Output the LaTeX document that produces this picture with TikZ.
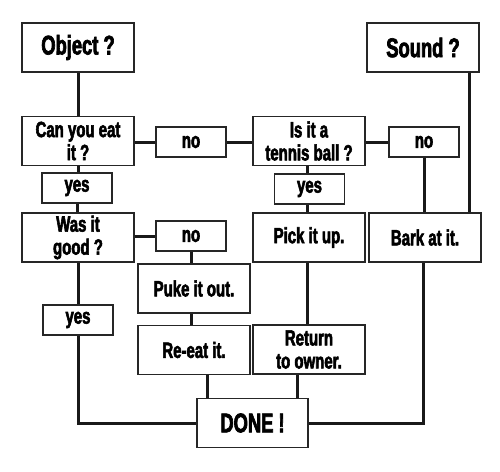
\documentclass[tikz,border=0pt]{standalone}
\usepackage{fontspec}
\newfontfamily\imp{Liberation Sans}[UprightFont={* Bold},FakeStretch=0.68,FakeBold=2.5]
\begin{document}
\begin{tikzpicture}[x=1pt,y=-1pt,
  box/.style={draw=black!85,line width=1.5pt,fill=white,inner sep=1pt,align=center,
    font=\imp\fontsize{22}{23}\selectfont},
  big/.style={box,minimum width=112pt,minimum height=49pt},
  small/.style={box,minimum width=70pt,minimum height=30pt},
  huge/.style={font=\imp\fontsize{27}{29}\selectfont},
  conn/.style={line width=3pt,black!90}]
\useasboundingbox (0,0) rectangle (500,471);
\node[big,huge] (obj) at (78,47.5) {Object ?};
\node[big] (eat) at (78,141) {Can you eat\\it ?};
\node[small] (no1) at (191,142) {no};
\node[small] (yes1) at (77,188) {yes};
\node[big] (good) at (78,237.5) {Was it\\good ?};
\node[small] (no2) at (191,236) {no};
\node[big] (puke) at (194,288.5) {Puke it out.};
\node[small] (yes2) at (78,320) {yes};
\node[big] (reeat) at (194,350) {Re-eat it.};
\node[big,huge,minimum width=111pt] (done) at (252.5,423) {DONE !};
\node[big] (tennis) at (309,141) {Is it a\\tennis ball ?};
\node[small] (no3) at (424,142) {no};
\node[big,huge] (sound) at (423,47.5) {Sound ?};
\node[small] (yes3) at (309.5,189) {yes};
\node[big] (pick) at (309,237.5) {Pick it up.};
\node[big] (bark) at (425,237.5) {Bark at it.};
\node[big] (ret) at (309,349.5) {Return\\to owner.};
\begin{scope}[conn]
\draw (obj.south) -- (eat.north);
\draw (eat.south) -- (eat.south |- yes1.north);
\draw (yes1.south) -- (yes1.south |- good.north);
\draw (eat.east |- no1.west) -- (no1.west);
\draw (no1.east) -- (tennis.west |- no1.east);
\draw (tennis.east |- no3.west) -- (no3.west);
\draw (no3.south) -- (no3.south |- bark.north);
\draw ([xshift=46pt]sound.south) -- ([xshift=46pt]sound.south |- bark.north);
\draw ([xshift=-2pt]tennis.south) -- ([xshift=-2pt]tennis.south |- yes3.north);
\draw ([xshift=-2pt]tennis.south |- yes3.south) -- ([xshift=-2pt]pick.north);
\draw ([xshift=-2pt]pick.south) -- ([xshift=-2pt]ret.north);
\draw ([xshift=-12pt]ret.south) -- ([xshift=-12pt]ret.south |- done.north);
\draw ([xshift=13pt]reeat.south) -- ([xshift=13pt]reeat.south |- done.north);
\draw (good.east |- no2.west) -- (no2.west);
\draw (no2.south) -- (no2.south |- puke.north);
\draw ([xshift=-3pt]puke.south) -- ([xshift=-3pt]reeat.north);
\draw (good.south) -- (good.south |- yes2.north);
\draw (yes2.south) |- (done.west);
\draw ([xshift=-2pt]bark.south) |- (done.east);
\end{scope}
\end{tikzpicture}
\end{document}
